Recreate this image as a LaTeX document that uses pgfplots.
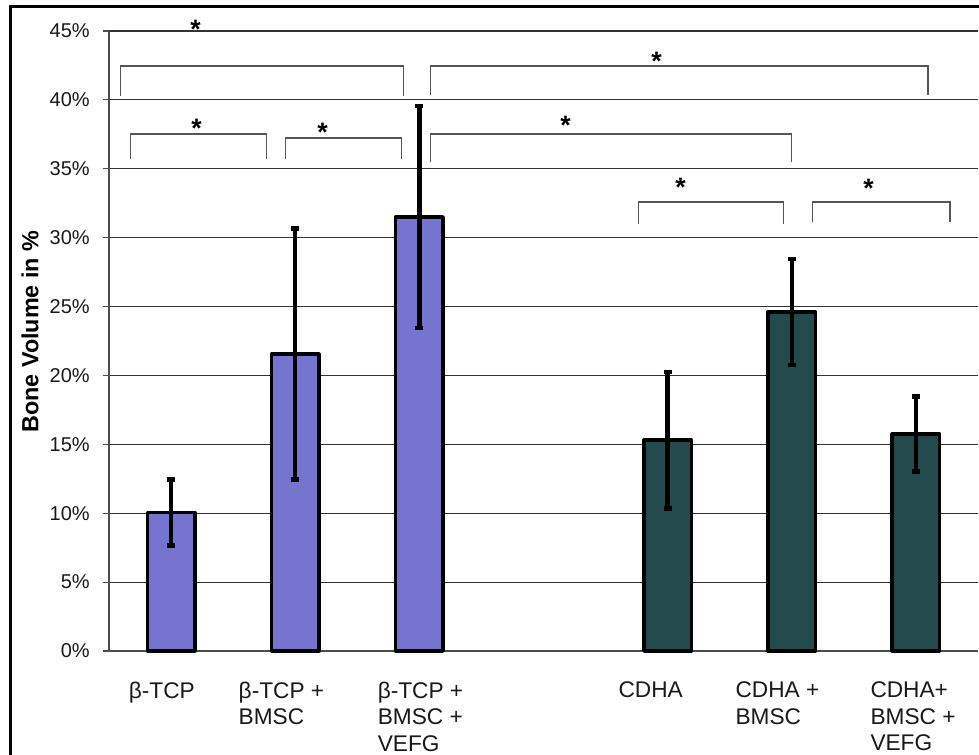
\documentclass[border=0pt]{standalone}
\usepackage{fontspec}
\setmainfont{Liberation Sans}
\usepackage{pgfplots}
\pgfplotsset{compat=1.18}
\definecolor{barA}{HTML}{7575D0}
\definecolor{barB}{HTML}{234A4C}
\definecolor{brk}{HTML}{555555}
\begin{document}
\begin{tikzpicture}
\useasboundingbox (0,0) rectangle (734.25pt,565.5pt);
\fill[white] (0,0) rectangle (734.25pt,565.5pt);
\begin{axis}[
  at={(81.75pt,77.25pt)}, anchor=south west,
  scale only axis, width=651.75pt, height=465pt,
  xmin=-0.5, xmax=6.5, ymin=0, ymax=45,
  axis x line*=bottom, axis y line*=left,
  axis line style={black!70, line width=0.9pt},
  ymajorgrids, grid style={black!80, line width=0.8pt},
  ytick={0,5,...,45},
  yticklabel={\pgfmathprintnumber{\tick}\%},
  /pgf/number format/assume math mode=true,
  tick align=outside, major tick length=4.5pt,
  tick style={black!70, line width=0.9pt},
  xtick style={draw=none},
  yticklabel style={anchor=east, inner sep=0pt, xshift=-9.75pt, font=\fontsize{15}{16}\selectfont, text=black!90},
  xtick={-0.342,0.543,1.663,3.603,4.545,5.632},
  xticklabels={{β-TCP},{β-TCP +\\BMSC},{β-TCP +\\BMSC +\\VEFG},{CDHA},{CDHA +\\BMSC},{CDHA+\\BMSC +\\VEFG}},
  xticklabel style={anchor=north west, align=left, inner sep=0pt, yshift=-18.5pt, font=\fontsize{17}{19.8}\selectfont, text=black!90},
  ylabel={Bone Volume in \%},
  ylabel style={at={(axis description cs:-0.0909,0.515)}, anchor=center, font=\bfseries\fontsize{17.5}{20}\selectfont},
  clip=false,
]
\addplot[ybar, bar shift=0pt, bar width=35.6pt, fill=barA, draw=black, line width=2.6pt, line join=round,
  error bars/.cd, y dir=both, y explicit,
  error bar style={line width=3.3pt, black},
  error mark options={rotate=90, mark size=3pt, line width=3.5pt, black}]
  table[x=x, y=y, y error=e] {
x y e
0 10.05 2.4
1 21.55 9.1
2 31.5 8.05
};
\addplot[ybar, bar shift=0pt, bar width=35.6pt, fill=barB, draw=black, line width=2.6pt, line join=round,
  error bars/.cd, y dir=both, y explicit,
  error bar style={line width=3.3pt, black},
  error mark options={rotate=90, mark size=3pt, line width=3.5pt, black}]
  table[x=x, y=y, y error=e] {
x y e
4 15.3 4.95
5 24.6 3.85
6 15.75 2.7
};
% significance brackets
\draw[brk, line width=1.1pt] (axis cs:-0.407,40.28) |- (axis cs:1.872,42.45) -- (axis cs:1.872,40.28);
\draw[brk, line width=1.1pt] (axis cs:2.089,40.35) |- (axis cs:6.099,42.45) -- (axis cs:6.099,40.35);
\draw[brk, line width=1.1pt] (axis cs:-0.326,35.70) |- (axis cs:0.769,37.52) -- (axis cs:0.769,35.70);
\draw[brk, line width=1.1pt] (axis cs:0.922,35.70) |- (axis cs:1.856,37.23) -- (axis cs:1.856,35.70);
\draw[brk, line width=1.1pt] (axis cs:2.089,35.49) |- (axis cs:4.996,37.52) -- (axis cs:4.996,35.49);
\draw[brk, line width=1.1pt] (axis cs:3.764,30.99) |- (axis cs:4.932,32.58) -- (axis cs:4.932,30.99);
\draw[brk, line width=1.1pt] (axis cs:5.165,31.13) |- (axis cs:6.276,32.58) -- (axis cs:6.276,31.13);
\tikzset{star/.style={anchor=base, inner sep=0pt, font=\bfseries\fontsize{20}{20}\selectfont}}
\node[star] at (axis cs:0.197,44.45) {*};
\node[star] at (axis cs:3.911,42.12) {*};
\node[star] at (axis cs:0.205,37.27) {*};
\node[star] at (axis cs:1.220,36.98) {*};
\node[star] at (axis cs:3.178,37.49) {*};
\node[star] at (axis cs:4.104,32.98) {*};
\node[star] at (axis cs:5.619,32.91) {*};
\end{axis}
\draw[black, line width=2.25pt] (7.5pt,-10pt) -- (7.5pt,560.25pt) -- (745pt,560.25pt);
\end{tikzpicture}
\end{document}
